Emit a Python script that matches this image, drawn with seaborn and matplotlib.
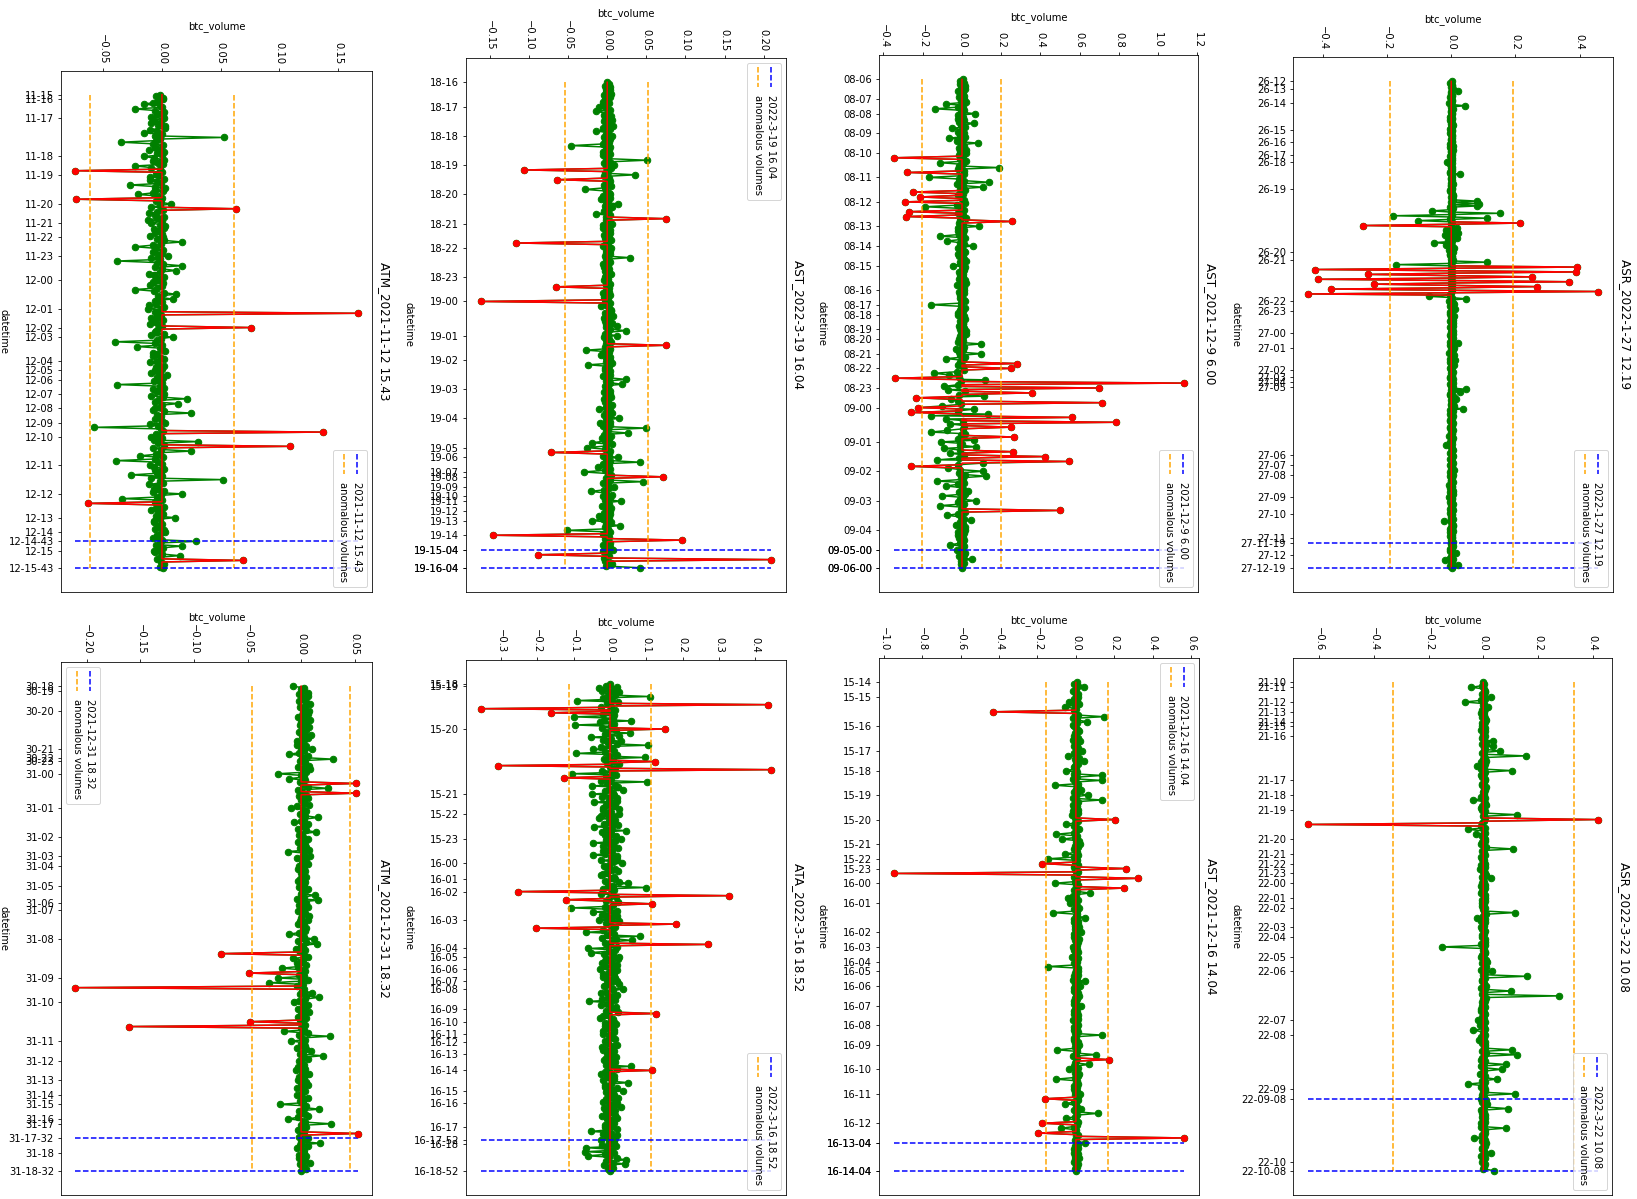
import numpy as np
import matplotlib
matplotlib.use("Agg")
import matplotlib.pyplot as plt
import seaborn as sns
from matplotlib.offsetbox import AnchoredOffsetbox, DrawingArea
from matplotlib.lines import Line2D
from matplotlib.text import Text
from matplotlib.textpath import TextPath
from matplotlib.font_manager import FontProperties

# ---------------- data (btc_volume in units of 0.001, one value per row) ----------------
# Panel 1: ATM_2021-11-12 15.43
atm1_vals = [-2, -5, 1, 1, -3, -8, -15, -2, 0, -23, -6, 2, -4, 1, -9, 2, -7, -1, -9, -3, 3, 3, -10, -4, -15, 0, -6, 53, -2, -5,
             -35, -8, 1, -6, -1, -11, 2, -4, 0, -15, -7, 2, -8, -3, 1, -23, -9, -2, -74, 0, -5, -3, -10, 2, -10, -4, -1, -27, -6, 3,
             -6, 1, -8, -20, -3, 0, -73, -5, -1, 8, -2, -9, 63, 1, -4, -11, -6, 2, -4, -12, 0, -9, -2, 3, 2, -7, -3, -6, 0, -10,
             1, -4, 2, 17, -1, -8, -23, -5, 1, -8, 0, -3, 5, -9, -2, -38, -4, 1, 17, -6, 0, 12, -2, -11, -7, 2, -5, -3, -8, 1,
             -10, 0, -4, -23, -7, 2, 12, -3, -1, 9, -6, 0, -5, -11, 2, -12, -2, -6, 167, -1, -4, -9, 1, -7, -4, -10, 0, 76, -3, -5,
             -6, 2, -9, 9, -1, -4, -40, -6, 0, -21, -2, 1, 3, -8, -4, -8, -1, 2, -4, -10, -3, 2, -5, 0, -6, -2, -9, 4, -4, 1,
             -3, -7, 0, -38, -2, 2, -8, -5, -1, 2, -9, 1, 21, -3, -6, 14, 0, -2, -6, -8, 2, 25, -4, -1, -2, -6, 0, 3, -10, -3,
             -58, -1, 1, 137, -5, -2, -9, 0, -7, 31, -3, 2, 109, -8, -1, 25, -2, -5, -19, 1, -6, -39, -3, 0, -10, -7, 2, -6, -1, -4,
             -26, 0, -9, 52, -2, 1, -11, -5, -3, -7, 2, -8, 17, -1, -4, -34, 0, -6, -63, -3, 2, -5, -9, -1, -3, 1, -5, 11, -2, -7,
             -7, 0, -3, -2, -6, 2, 3, -1, -4, -4, -8, 0, 29, -2, -5, 17, 1, -3, -7, -6, 0, 15, -2, -4, 69, -1, 2, 0, -2, 1]
atm1_hours = ["11-15", "11-16", "11-17", "11-18", "11-19", "11-20", "11-21", "11-22", "11-23",
              "12-00", "12-01", "12-02", "12-03", "12-04", "12-05", "12-06", "12-07", "12-08",
              "12-09", "12-10", "12-11", "12-12", "12-13", "12-14", "12-15"]
atm1_hour_rows = [0, 3, 15, 39, 51, 69, 81, 90, 102, 117, 135, 147, 153, 168, 174, 180, 189, 198,
                  207, 216, 234, 252, 267, 276, 288]
atm1_events = ["12-14-43", "12-15-43"]
atm1_event_rows = [282, 299]
atm1_thr = (-61.7, 61.4)

# Panel 2: AST_2022-3-19 16.04
ast2_vals = [0, 2, -3, 3, -1, 4, -2, 5, -4, 4, -3, 1, -6, 2, -5, -10, -2, 3, -15, 1, -4, 5, -3, 6, -4, 2, -1, 8, -5, 3,
             -14, 1, -2, 6, -4, 3, -3, 2, -6, -46, 4, -1, 2, -5, 3, -5, 1, -2, 51, 3, -4, 9, -2, 5, -106, 1, -3, 36, -4, 2,
             -64, 3, -1, -4, 5, -3, -28, -1, 2, 3, -5, 4, -8, 1, -2, 14, -3, 6, 2, -4, 1, -15, 3, -2, 75, -1, 4, 6, -6, 2,
             -5, 3, -1, 4, -4, 2, -3, 5, -2, -117, 1, -5, 5, -2, 3, -2, 4, -3, 29, -1, 2, 3, -6, 1, -4, 2, -3, 2, 5, -1,
             -3, 1, -4, 1, 3, -2, -66, 2, -1, 2, -5, 4, -4, 1, -3, -162, 3, -2, -8, 2, 5, 5, -3, 1, 8, -4, 2, -3, 6, -1,
             13, -2, 4, 24, 1, -3, 12, -4, 2, -2, 5, -1, 75, -3, 3, -27, 2, -5, -8, 4, -2, 3, -1, 6, -24, 2, -3, -3, 4, 1,
             4, -5, 2, 24, -1, 3, 19, -3, 1, -2, 4, -4, 3, -2, 5, -4, 1, -3, 2, 6, -2, -11, 3, -1, 6, -4, 2, 15, -2, 4,
             -9, 3, -5, 50, 1, -2, 26, -4, 5, -7, 2, -3, -19, 6, -1, -26, -3, 4, -72, 2, -5, 14, -1, 3, 42, -6, 2, -12, 4, -3,
             -30, 1, 5, 71, -2, 3, 46, -5, 1, 9, 2, -4, -21, -1, 6, -5, 3, -3, 17, -2, 2, -7, 5, -1, 4, -4, 3, -10, 2, -6,
             -19, 5, -2, 16, -3, 1, -52, 4, -5, -146, 2, -3, 95, -1, 4, -6, 3, -2, 7, -5, 1, -88, 2, -4, 210, -3, 5, 6, -2, 42]
ast2_hours = ["18-16", "18-17", "18-18", "18-19", "18-20", "18-21", "18-22", "18-23", "19-00",
              "19-01", "19-02", "19-03", "19-04", "19-05", "19-06", "19-07", "19-08", "19-09",
              "19-10", "19-11", "19-12", "19-13", "19-14", "19-15", "19-16"]
ast2_hour_rows = [0, 15, 33, 51, 69, 87, 102, 120, 135, 156, 171, 189, 207, 225, 231, 240, 243,
                  249, 255, 258, 264, 270, 279, 288, 299]
ast2_events = ["19-15-04", "19-16-04"]
ast2_event_rows = [288, 299]
ast2_thr = (-54.3, 52.6)

# Panel 3: AST_2021-12-9 6.00
ast3_vals = [5, -12, 8, -10, 14, -5, 15, -20, 3, -8, 10, -15, 12, -3, 18, -80, 6, -22, -140, 11, -7, 66, -18, 4, -20, 9, -13, 63, -6, 16,
             -50, 2, -19, 10, -9, 13, -66, 7, -24, 80, -4, 12, -15, 20, -8, 20, -14, 5, -349, -10, 22, -114, 3, -17, 190, -21, 8, -278, 12, -5,
             -168, -16, 9, 140, -23, 4, 105, -11, 15, -249, 6, -19, -215, -2, 10, -290, 14, -25, -190, -7, 12, -268, -20, 3, -286, 18, -9, 256, -13, 6,
             86, -22, 11, -20, 5, -14, -114, 17, -3, -76, -10, 8, 56, -18, 2, 10, 13, -21, -15, 4, 9, 20, -12, -6, -46, 15, -2, 12, -17, 7,
             -10, 3, -13, 15, -6, 20, -25, 8, -4, 8, -15, 11, -12, 2, -9, 10, 16, -7, -158, -3, 13, -10, 6, -18, -20, 11, -1, 15, -8, 4,
             5, -14, 9, -12, 19, -5, 20, -10, 3, -15, 7, -20, 98, -2, 12, -30, 5, -16, 97, -8, 14, -80, 3, -11, 278, -19, 6, 249, 10, -24,
             -142, -65, -13, -341, 119, -6, 1129, -21, -90, 698, -70, 17, 358, -15, 114, -232, -55, -22, 715, -7, -100, -224, 60, -18, -261, 132, -159, 559, -83, 6,
             785, -60, 8, 249, 3, -75, -159, 14, -5, 263, -19, 60, -105, 1, -12, 70, -90, -8, 259, -60, 12, 424, -17, -125, 544, 108, -21, -261, -70, -10,
             108, -14, 15, 120, -5, 3, -125, 11, -20, -83, -2, 7, 30, -16, 13, -100, 4, -9, 70, -22, 10, -110, 2, -6, 502, 14, -18, -76, -4, 8,
             44, -11, 5, -30, 16, -3, 15, -19, 9, -20, 6, -13, 10, 3, -8, -60, 12, -2, -25, -7, 15, 12, -14, 4, 50, -5, 11, -3, 2, 0]
ast3_hours = ["08-06", "08-07", "08-08", "08-09", "08-10", "08-11", "08-12", "08-13", "08-14",
              "08-15", "08-16", "08-17", "08-18", "08-19", "08-20", "08-21", "08-22", "08-23",
              "09-00", "09-01", "09-02", "09-03", "09-04", "09-05", "09-06"]
ast3_hour_rows = [0, 12, 21, 33, 45, 60, 75, 90, 102, 114, 129, 138, 144, 153, 159, 168, 177, 189,
                  201, 222, 240, 258, 276, 288, 299]
ast3_events = ["09-05-00", "09-06-00"]
ast3_event_rows = [288, 299]
ast3_thr = (-201.7, 196.6)

# Panel 4: ASR_2022-1-27 12.19
asr4_vals = [1, -3, -2, 2, 2, -1, 4, 3, 21, -2, -1, 1, 3, -4, -2, 2, 1, 0, -6, 3,
             42, -1, 2, 4, -1, -2, 3, 1, -2, -3, 1, 2, -3, 0, 2, -2, 4, 3, -1, -4,
             2, 1, -4, -1, 1, 3, 3, -2, -2, 2, 2, -3, 1, 4, -3, 0, 4, -1, -1, 2,
             2, -4, -2, 1, 3, -2, -12, 3, -4, 0, 1, -1, 2, 2, -3, -5, 27, 1, 1, -2,
             -2, 3, 3, -1, 4, 0, -1, 2, 2, -3, -3, 1, 1, 4, 5, -2, 3, 6, 79, -1,
             86, 2, 81, -3, 4, 1, -59, -2, 151, 3, -182, 0, 110, -4, -105, 2, 215, -1, -276, 3,
             19, -2, -17, 4, 21, -3, -21, 1, 17, -5, -10, 2, -54, -1, -15, 3, 8, -2, -6, 1,
             5, -3, -5, 2, 2, -1, 4, 3, 112, -2, -172, 1, 392, -1, -424, 2, 389, 0, -259, 1,
             252, -2, -416, 1, 368, -1, -240, 2, 267, -1, -374, 1, 459, 0, -448, -3, -69, 2, 47, -1,
             -6, 4, 10, -2, -4, 3, 12, 1, 3, -5, -5, 2, 8, -1, 2, 4, -3, -2, 6, 1,
             4, -3, -2, 2, 7, -1, 1, 5, -4, -2, 5, 3, 3, -4, 20, 1, -3, 2, 10, -1,
             4, 3, -6, -2, 8, 1, 2, -3, 12, 4, -4, -1, 9, 2, 3, -5, -2, 3, 6, -1,
             1, 2, -5, -3, 4, 1, 2, 5, -3, -2, 6, 3, 45, -1, 26, 2, -4, -3, 8, 1,
             15, -2, 3, 4, -2, -1, 10, 2, 37, -3, 4, 1, -5, 3, 6, -2, 2, -4, -3, 1,
             5, 2, 1, -3, -4, 4, 3, -1, 2, 1, -6, -2, 4, 3, 1, -4, -3, 2, -15, -1,
             2, 3, 5, -2, -4, 1, 1, 4, 3, -3, -2, 2, 6, -1, -5, 3, 2, -2, 10, 1,
             -3, 2, 4, -4, 1, 3, -2, -1, 5, 2, -6, 1, 3, -3, 2, 4, -4, -2, 6, 1,
             -8, 2, 2, -1, -3, 3, 4, -2, 1, 1, -5, 4, 3, -3, 2, 2, -2, -1, 5, 3,
             -23, -2, 1, 4, 4, -1, -3, 2, 6, -3, 2, 1, -4, 3, 3, -2, 1, 4, -2, -1,
             4, 2, 2, -3, -3, 1, 16, 3, 1, -2, -5, 4, -18, -1, 3, 2, 20, -3, 1]
asr4_hours = ["26-12", "26-13", "26-14", "26-15", "26-16", "26-17", "26-18", "26-19", "26-20",
              "26-21", "26-22", "26-23", "27-00", "27-01", "27-02", "27-03", "27-04", "27-05",
              "27-06", "27-07", "27-08", "27-09", "27-10", "27-11", "27-12"]
asr4_hour_rows = [0, 6, 18, 40, 50, 60, 66, 88, 140, 146, 180, 188, 206, 218, 236, 242, 246, 250,
                  306, 314, 322, 340, 354, 374, 388]
asr4_events = ["27-11-19", "27-12-19"]
asr4_event_rows = [378, 398]
asr4_thr = (-190.0, 193.0)

# Panel 5: ATM_2021-12-31 18.32
atm5_vals = [-8, 3, 0, 2, 6, -2, 6, 1, 4, -2, 5, 8, 4, -1, 3, 7, 2, 6, 1, -3, 4, 8, 0, 5, -1, 7, 2, 5, -2, 3,
             9, 1, 6, 3, -4, 2, -4, 5, 0, 10, 3, -2, -11, 6, 1, 30, -1, 4, 4, 7, -3, 8, 2, 5, -22, 0, 3, -11, 4, -1,
             51, 2, 6, 25, -3, 1, 51, 5, -2, 6, 0, 3, 3, 7, -4, -9, 2, 5, 2, -1, 4, 16, 3, 0, -7, 6, 2, 4, -3, 5,
             14, 1, -2, 2, 6, 3, -3, 4, 0, 5, -1, 7, -12, 3, 2, 8, -4, 5, 2, 1, 6, -2, 3, -3, 4, 0, 2, 1, 5, -1,
             -3, 4, 2, 3, -2, 6, 5, 1, 0, 13, 3, -4, 16, 2, 5, -2, 6, 1, 3, -3, 4, 1, 7, 0, 6, -1, 3, -3, 2, 5,
             2, 4, -2, -11, 1, 3, 12, -3, 5, 15, 0, 2, -5, 4, -1, -75, 3, 6, -8, 2, 0, -4, 5, -3, -18, 1, 4, -49, -2, 3,
             -22, 6, 0, -30, 2, -4, -211, 3, 1, 10, -1, 5, 17, 4, -2, -7, 2, 6, 4, -3, 1, 7, 0, 3, -3, 5, -1, -48, 2, 4,
             -161, 0, 3, -16, 6, -2, 27, 1, 4, -9, 3, 0, 4, -4, 5, 9, 2, -1, 20, 3, 6, -2, 0, 2, 3, -3, 4, -5, 1, 7,
             4, -2, 3, -3, 5, 0, 6, 2, -4, 2, 4, 1, -4, 0, 6, 3, -1, 2, -20, 5, 3, 17, -2, 1, 4, 6, -3, -12, 2, 4,
             28, 0, 5, 2, -3, 3, 53, 1, -2, 6, 4, 0, 18, -1, 6, -4, 3, 2, 3, -2, 5, -2, 4, 1, 8, -1, 3, 2, 5, 0]
atm5_hours = ["30-18", "30-19", "30-20", "30-21", "30-22", "30-23", "31-00", "31-01", "31-02",
              "31-03", "31-04", "31-05", "31-06", "31-07", "31-08", "31-09", "31-10", "31-11",
              "31-12", "31-13", "31-14", "31-15", "31-16", "31-17", "31-18"]
atm5_hour_rows = [0, 3, 15, 39, 44, 46, 54, 75, 93, 105, 111, 123, 134, 138, 156, 180, 195, 219,
                  231, 243, 252, 258, 267, 270, 288]
atm5_events = ["31-17-32", "31-18-32"]
atm5_event_rows = [279, 299]
atm5_thr = (-45.5, 45.2)

# Panel 6: ATA_2022-3-16 18.52
ata6_vals = [0, -12, 18, -30, 8, -22, 25, -5, 14, 109, -18, 6, -90, 22, -9, 435, 3, -25, -356, 15, -4, -161, -20, 10, -99, 7, -16, 57, -27, 12,
             -96, 4, -21, 150, 16, -8, 55, -13, 24, -53, 2, -18, 30, -6, 19, 105, -24, 5, -48, 11, -14, -93, 20, -3, 96, -17, 8, 123, -9, 26,
             -308, -1, 13, 444, -22, 6, -105, 17, -11, -126, 4, -26, 103, -7, 15, -49, 21, -2, 37, -15, 9, -49, 12, -23, 20, -4, 18, -44, 8, -12,
             15, -19, 25, -20, 3, -8, 25, -26, 11, -30, 14, -3, 10, -16, 22, -44, 6, -10, 44, -21, 2, -15, 17, -6, 29, -11, 13, -46, 1, -19,
             12, 23, -7, -20, 5, -14, -48, 18, 3, 18, -24, 9, 33, -2, -17, -10, 14, 6, 22, -9, -20, -25, 11, 4, 15, -13, 24, 50, -5, 8,
             100, -18, 12, -252, 2, -25, 328, 16, -4, -121, -11, 21, 116, 7, -15, -106, -3, 19, -46, 10, -22, 20, -8, 5, -30, 24, -12, 181, -1, 14,
             -204, -19, 6, -65, 11, -8, 83, -23, 17, 60, 3, -13, 269, -6, 20, -60, 14, -2, -53, -17, 9, 25, -10, 22, -15, 5, -21, 20, -14, 7,
             -28, 18, -4, 12, -20, 10, -20, 13, -9, 18, -2, 24, -10, -16, 6, 37, 8, -11, -25, 19, -5, 10, -22, 14, -59, 1, -7, -26, 16, 3,
             15, -12, 21, 127, -4, -18, -28, 9, 2, 12, -15, 17, -15, 6, -9, 10, -20, 12, -18, 4, -3, 8, 15, -13, -12, -6, 19, 10, -21, 5,
             -20, 11, -8, 8, -2, 16, -10, -17, 3, 15, 7, -12, 57, -5, 20, 115, -14, 4, -26, 12, -9, 12, -19, 6, 50, 2, -15, -15, 18, -3,
             37, -11, 9, 10, -6, 21, -12, 15, -20, 20, -3, 7, 29, -16, 13, -10, 4, -8, 15, -22, 18, -8, 9, -4, 12, -13, 6, -15, 20, -10,
             -53, 3, -18, 20, -7, 14, -25, 10, -2, 10, -21, 16, -66, -9, 5, -68, 12, -14, -60, -4, 19, 44, -11, 8, 40, -16, 2, 7, -5, 0]
ata6_hours = ["15-18", "15-19", "15-20", "15-21", "15-22", "15-23", "16-00", "16-01", "16-02",
              "16-03", "16-04", "16-05", "16-06", "16-07", "16-08", "16-09", "16-10", "16-11",
              "16-12", "16-13", "16-14", "16-15", "16-16", "16-17", "16-18"]
ata6_hour_rows = [0, 1, 33, 81, 96, 114, 132, 144, 153, 174, 195, 201, 210, 219, 225, 240, 249,
                  258, 264, 273, 285, 300, 309, 327, 339]
ata6_events = ["16-17-52", "16-18-52"]
ata6_event_rows = [336, 359]
ata6_thr = (-113.0, 112.0)

# Panel 7: AST_2021-12-16 14.04
ast7_vals = [5, -8, 12, 43, 3, -14, -5, 9, -2, 10, -11, 6, -38, 14, -4, -59, 2, -9, -431, -6, 11, 146, -13, 4, 57, 8, -16, -10, 1, 13,
             15, -7, 3, -8, 12, -15, 20, -3, 7, -12, 10, -1, 30, -9, 5, -40, 16, -6, 42, -2, 9, -5, -12, 3, -54, 7, -8, 136, 4, -14,
             134, -5, 10, -110, 13, -2, 25, -10, 6, 61, 1, -13, 136, 9, -4, -15, 5, -8, 10, -14, 11, -20, 2, -6, 202, 12, -3, -54, -9, 7,
             15, 3, -11, -104, 8, -5, -71, 14, 1, 20, -7, 10, -10, -2, 6, -57, 11, -12, -143, 4, -3, -176, 9, -8, 259, -6, 13, -949, 2, -10,
             323, 7, -4, -110, 12, -1, 249, -9, 5, 73, 3, -13, -40, 10, -6, -30, 1, 8, 15, -12, 4, -120, 6, -2, 47, -8, 11, -10, 13, -5,
             15, -3, 9, 25, -11, 2, -8, 14, -7, 12, -1, 5, -15, 8, -12, 10, 3, -4, -20, 11, 6, 8, -9, 1, -143, 13, -2, 12, -6, 10,
             -10, 4, -13, 47, 9, -3, 20, -8, 5, -12, 12, -1, 15, -5, 7, -8, 2, -11, 25, 10, -4, -10, 6, -9, 12, -2, 13, -15, 7, 1,
             10, -12, 4, -8, 9, -6, 136, 2, -10, -10, 11, -3, 15, -7, 6, -97, 5, -1, 103, -13, 8, 172, 3, -5, 70, -9, 12, -38, 1, -4,
             15, 10, -7, -104, 4, -2, 10, -11, 8, -12, 6, -5, 20, -3, 12, -162, 9, -8, -56, 1, 5, 25, -10, 3, 113, 7, -6, -52, -2, 11,
             -176, 6, -9, -75, 3, -4, -197, 10, 2, 565, -7, -1, 50, 12, -5, 10, -8, 4, -12, 9, -3, 15, -6, 1, -8, 11, -2, 5, -4, 3]
ast7_hours = ["15-14", "15-15", "15-16", "15-17", "15-18", "15-19", "15-20", "15-21", "15-22",
              "15-23", "16-00", "16-01", "16-02", "16-03", "16-04", "16-05", "16-06", "16-07",
              "16-08", "16-09", "16-10", "16-11", "16-12", "16-13", "16-14"]
ast7_hour_rows = [0, 9, 27, 42, 54, 69, 84, 99, 108, 114, 123, 135, 153, 162, 171, 177, 186, 198,
                  210, 222, 237, 252, 270, 282, 299]
ast7_events = ["16-13-04", "16-14-04"]
ast7_event_rows = [282, 299]
ast7_thr = (-158.0, 165.0)

# Panel 8: ASR_2022-3-22 10.08
asr8_vals = [0, 4, -6, -43, 2, 8, 5, -3, 1, 27, 6, -9, -68, 3, -2, 18, 7, -5, 4, -8, 2, -5, 5, 9, 6, -4, 1, -3, 8, -7,
             8, 2, -1, 5, -6, 4, 34, 9, -3, 37, 1, 6, 63, -5, 3, 156, 8, -2, 10, -7, 5, -24, 3, -9, 104, 6, 1, -8, -3, 7,
             5, 2, -6, -6, 9, 4, 8, -2, 3, 4, -8, 6, -38, 1, 5, 10, -4, -7, -5, 8, 2, 123, -1, 6, 418, 4, -3, -643, -9, 5,
             -55, 2, 8, -27, -4, 3, 6, 7, -5, -10, 1, 9, 110, -6, 2, 4, 5, -8, -6, 3, 1, 8, -7, 6, -12, 4, -2, 5, 9, -4,
             28, -1, 3, -4, 6, -9, 6, 2, -5, -8, 8, 1, 5, -3, 7, -3, 4, -6, 8, -2, 3, 115, 9, -1, -22, 5, -7, 6, 2, 4,
             -10, -5, 8, 4, 1, -3, -6, 7, 2, 8, -9, 5, -152, 3, -1, 5, 6, -4, -8, 2, 9, 12, -6, 3, 10, 1, -8, 33, 5, -2,
             159, 7, -3, -6, 4, 1, 10, -8, 6, 101, 2, -5, 277, 9, -1, 8, -4, 3, -6, 6, -7, -10, 1, 8, 4, -3, 2, -18, 5, -6,
             -12, 3, 7, -39, -2, 4, 6, -7, 1, -15, 8, -3, 8, 2, 5, 104, -6, 9, 123, 1, -4, -10, 6, 2, 82, -8, 3, 67, 4, -5,
             -12, 7, 1, 49, -3, 6, -56, 2, -8, 8, 5, -1, 115, -4, 3, -10, 9, -6, 12, 1, 4, 90, -7, 2, -6, 6, -3, 8, -1, 5,
             -10, 3, -8, 82, 6, 1, 6, -4, 2, -34, 7, -5, 10, 2, 8, -6, -3, 4, 30, 5, -7, 8, 1, -2, -5, 6, 3, 4, -1, 39]
asr8_hours = ["21-10", "21-11", "21-12", "21-13", "21-14", "21-15", "21-16", "21-17", "21-18",
              "21-19", "21-20", "21-21", "21-22", "21-23", "22-00", "22-01", "22-02", "22-03",
              "22-04", "22-05", "22-06", "22-07", "22-08", "22-09", "22-10"]
asr8_hour_rows = [0, 3, 12, 18, 24, 27, 33, 60, 69, 78, 96, 105, 111, 117, 123, 132, 138, 150,
                  156, 168, 177, 207, 216, 249, 294]
asr8_events = ["22-09-08", "22-10-08"]
asr8_event_rows = [255, 299]
asr8_thr = (-331.0, 331.0)

titles = ["ATM_2021-11-12 15.43", "AST_2022-3-19 16.04", "AST_2021-12-9 6.00", "ASR_2022-1-27 12.19",
          "ATM_2021-12-31 18.32", "ATA_2022-3-16 18.52", "AST_2021-12-16 14.04", "ASR_2022-3-22 10.08"]
event_names = ["2021-11-12 15.43", "2022-3-19 16.04", "2021-12-9 6.00", "2022-1-27 12.19",
               "2021-12-31 18.32", "2022-3-16 18.52", "2021-12-16 14.04", "2022-3-22 10.08"]

panels = [
    (atm1_vals, atm1_hours, atm1_hour_rows, atm1_events, atm1_event_rows, atm1_thr),
    (ast2_vals, ast2_hours, ast2_hour_rows, ast2_events, ast2_event_rows, ast2_thr),
    (ast3_vals, ast3_hours, ast3_hour_rows, ast3_events, ast3_event_rows, ast3_thr),
    (asr4_vals, asr4_hours, asr4_hour_rows, asr4_events, asr4_event_rows, asr4_thr),
    (atm5_vals, atm5_hours, atm5_hour_rows, atm5_events, atm5_event_rows, atm5_thr),
    (ata6_vals, ata6_hours, ata6_hour_rows, ata6_events, ata6_event_rows, ata6_thr),
    (ast7_vals, ast7_hours, ast7_hour_rows, ast7_events, ast7_event_rows, ast7_thr),
    (asr8_vals, asr8_hours, asr8_hour_rows, asr8_events, asr8_event_rows, asr8_thr),
]

# ---------------- layout ----------------
FIG_W, FIG_H, DPI = 1637, 1199, 72
boxes_px = [(61, 71, 372, 592), (466, 58, 786, 592), (879, 55, 1198, 592), (1293, 57, 1613, 592),
            (61, 662, 372, 1195), (466, 660, 786, 1195), (879, 658, 1199, 1195), (1293, 658, 1612, 1195)]
legend_locs = ["lower right", "upper right", "lower right", "lower right",
               "upper left", "lower right", "upper right", "lower right"]

fig = plt.figure(figsize=(FIG_W / DPI, FIG_H / DPI), dpi=DPI)


def rotated_legend(ax, loc, entries):
    fp = FontProperties(size=10)
    lens = [TextPath((0, 0), lab, prop=fp).get_extents().width for lab, _ in entries]
    handle_len, gap, col_w = 20, 8, 13
    w = col_w * len(entries)
    h = handle_len + gap + max(lens) + 2
    da = DrawingArea(w, h, 0, 0)
    for i, (lab, col) in enumerate(entries):
        cx = w - col_w * (i + 0.5)
        da.add_artist(Line2D([cx, cx], [h, h - handle_len], color=col, ls="--", lw=1.5))
        da.add_artist(Text(cx, h - handle_len - gap, lab, rotation=-90,
                           ha="center", va="top", fontsize=10))
    ab = AnchoredOffsetbox(loc=loc, child=da, pad=0.4, borderpad=0.5, frameon=True,
                           prop=dict(size=10))
    ab.patch.set_boxstyle("round,pad=0,rounding_size=0.2")
    ab.patch.set(facecolor="white", edgecolor="0.8", alpha=0.8)
    ab.set_zorder(6)
    ax.add_artist(ab)


for k, (vals, hours, hrows, evs, evrows, thr) in enumerate(panels):
    L, T, R, B = boxes_px[k]
    ax = fig.add_axes([L / FIG_W, 1 - B / FIG_H, (R - L) / FIG_W, (B - T) / FIG_H])
    v = np.asarray(vals, dtype=float) / 1000.0
    idx = np.arange(len(v))
    lo, hi = thr[0] / 1000.0, thr[1] / 1000.0
    anom = (v < lo) | (v > hi)
    red_line = np.where(anom, v, 0.0)

    sns.lineplot(x=v, y=idx, orient="y", sort=False, estimator=None, color="green",
                 marker="o", markersize=6.5, markeredgecolor="green", markeredgewidth=1,
                 linewidth=1.5, ax=ax, zorder=2)
    sns.lineplot(x=red_line, y=idx, orient="y", sort=False, estimator=None, color="red",
                 linewidth=1.5, ax=ax, zorder=3)
    sns.scatterplot(x=v[anom], y=idx[anom], color="red", s=40, edgecolor="red",
                    linewidth=0.75, ax=ax, zorder=4)

    ax.vlines([lo, hi], ymin=idx[0], ymax=idx[-1], colors="orange", linestyles="--",
              linewidth=1.5, zorder=3.5)
    ax.hlines(evrows, xmin=v.min(), xmax=v.max(), colors="blue", linestyles="--",
              linewidth=1.5, zorder=3.6)

    ax.set_yticks(list(hrows) + list(evrows), list(hours) + list(evs))
    ax.invert_yaxis()

    ax.xaxis.tick_top()
    ax.xaxis.set_label_position("top")
    ax.tick_params(axis="x", labelrotation=-90)
    ax.set_xlabel("btc_volume", fontsize=10)
    ax.set_ylabel("datetime", rotation=-90, va="top", fontsize=10, labelpad=0)
    ax.annotate(titles[k], xy=(1, 0.5), xycoords="axes fraction", xytext=(6, 0),
                textcoords="offset points", rotation=-90, ha="left", va="center",
                fontsize=12)
    rotated_legend(ax, legend_locs[k], [(event_names[k], "blue"), ("anomalous volumes", "orange")])

fig.savefig("out.png", dpi=DPI)
